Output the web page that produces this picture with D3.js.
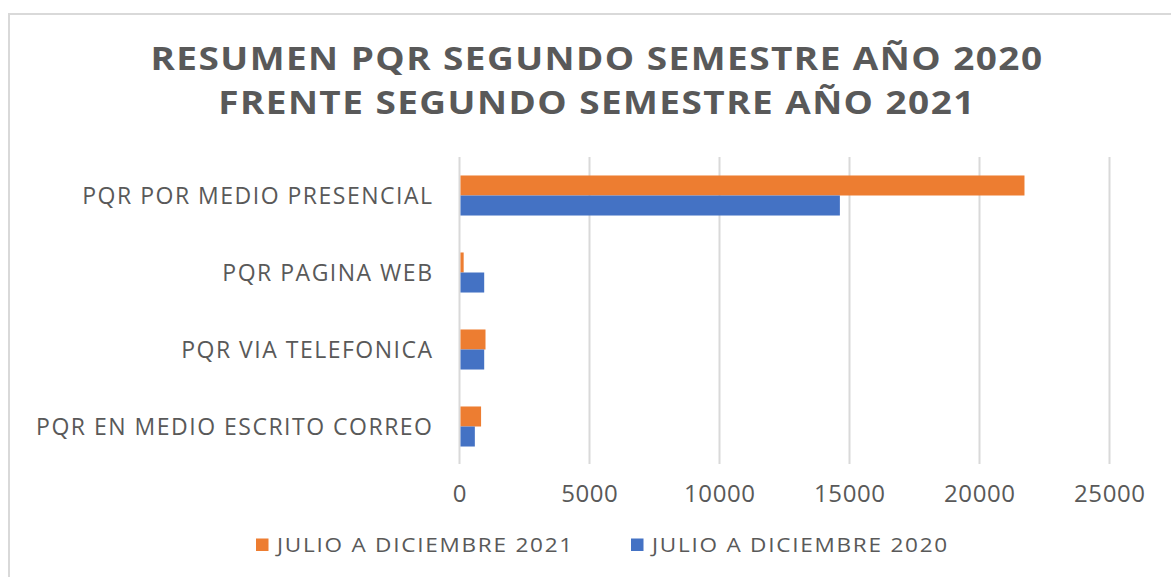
<!DOCTYPE html>
<html>
<head>
<meta charset="utf-8">
<script src="https://cdn.jsdelivr.net/npm/d3@7"></script>
<style>
  html, body { margin: 0; padding: 0; background: #fff; }
  svg { display: block; }
</style>
</head>
<body>
<svg id="chart"></svg>
<script>
// Data
const categories = [
    "PQR POR MEDIO PRESENCIAL",
    "PQR PAGINA WEB",
    "PQR VIA TELEFONICA",
    "PQR EN MEDIO ESCRITO CORREO"
];
const seriesNames = ["JULIO A DICIEMBRE 2021", "JULIO A DICIEMBRE 2020"];
const values2021 = [21730, 160, 1000, 830];
const values2020 = [14630, 950, 950, 590];
const xTicks = [0, 5000, 10000, 15000, 20000, 25000];
const titleLines = [
    "RESUMEN PQR SEGUNDO SEMESTRE AÑO 2020",
    "FRENTE SEGUNDO SEMESTRE AÑO 2021"
];

function drawChart() {
    const W = 1171, H = 577;
    const colors = { "JULIO A DICIEMBRE 2021": "#ED7D31", "JULIO A DICIEMBRE 2020": "#4472C4" };
    const textColor = "#595959";
    const font = "'Open Sans', sans-serif";

    const svg = d3.select("#chart")
        .attr("width", W)
        .attr("height", H);

    // Chart frame
    svg.append("rect")
        .attr("x", 9)
        .attr("y", 14)
        .attr("width", W + 20)
        .attr("height", H + 20)
        .attr("fill", "#fff")
        .attr("stroke", "#d9d9d9")
        .attr("stroke-width", 2);

    // Title (glyphs a bit wider than Open Sans, so stretch horizontally)
    svg.append("g")
        .selectAll("text")
        .data(titleLines)
        .enter()
        .append("text")
        .attr("transform", (d, i) => `translate(597,${70 + i * 43.5}) scale(1.12,1)`)
        .attr("text-anchor", "middle")
        .attr("fill", textColor)
        .style("font-family", font)
        .style("font-weight", "bold")
        .style("font-size", "33px")
        .style("letter-spacing", "1.3px")
        .text(d => d);

    // Scales
    const x = d3.scaleLinear()
        .domain([0, 25000])
        .range([459.5, 1109.5]);

    const y = d3.scaleBand()
        .domain(categories)
        .range([157, 465])
        .paddingInner(0.48)
        .paddingOuter(0.24);

    const ySub = d3.scaleBand()
        .domain(seriesNames)
        .range([0, y.bandwidth()]);

    // Gridlines
    svg.append("g")
        .selectAll("line")
        .data(xTicks)
        .enter()
        .append("line")
        .attr("x1", d => x(d))
        .attr("x2", d => x(d))
        .attr("y1", 157)
        .attr("y2", 464)
        .attr("stroke", "#d9d9d9")
        .attr("stroke-width", 2);

    // Tick labels
    svg.append("g")
        .selectAll("text")
        .data(xTicks)
        .enter()
        .append("text")
        .attr("x", d => x(d) + 0.3)
        .attr("y", 502)
        .attr("text-anchor", "middle")
        .attr("fill", textColor)
        .style("font-family", font)
        .style("font-size", "24px")
        .style("letter-spacing", "0.6px")
        .text(d => d);

    // Category labels
    svg.append("g")
        .selectAll("text")
        .data(categories)
        .enter()
        .append("text")
        .attr("x", 433.5)
        .attr("y", d => y(d) + y.bandwidth() / 2)
        .attr("dy", "0.36em")
        .attr("text-anchor", "end")
        .attr("fill", textColor)
        .style("font-family", font)
        .style("font-size", "23px")
        .style("letter-spacing", "1.5px")
        .text(d => d);

    // Bars
    const rows = categories.map((c, i) => ({
        cat: c,
        vals: [
            { key: seriesNames[0], value: values2021[i] },
            { key: seriesNames[1], value: values2020[i] }
        ]
    }));

    svg.append("g")
        .selectAll("g")
        .data(rows)
        .enter()
        .append("g")
        .attr("transform", d => `translate(0,${y(d.cat)})`)
        .selectAll("rect")
        .data(d => d.vals)
        .enter()
        .append("rect")
        .attr("x", x(0) + 1)
        .attr("y", d => ySub(d.key))
        .attr("width", d => x(d.value) - x(0) - 1)
        .attr("height", ySub.bandwidth())
        .attr("fill", d => colors[d.key]);

    // Legend
    const legendX = [256, 631];
    const legend = svg.append("g")
        .selectAll("g")
        .data(seriesNames)
        .enter()
        .append("g")
        .attr("transform", (d, i) => `translate(${legendX[i]},545)`);

    legend.append("rect")
        .attr("x", 0)
        .attr("y", -6.5)
        .attr("width", 12.5)
        .attr("height", 12.5)
        .attr("fill", d => colors[d]);

    legend.append("text")
        .attr("transform", "translate(21,0) scale(1.1,1)")
        .attr("dy", "0.36em")
        .attr("fill", textColor)
        .style("font-family", font)
        .style("font-size", "20.5px")
        .style("letter-spacing", "1.6px")
        .text(d => d);
}

drawChart();
</script>
</body>
</html>
